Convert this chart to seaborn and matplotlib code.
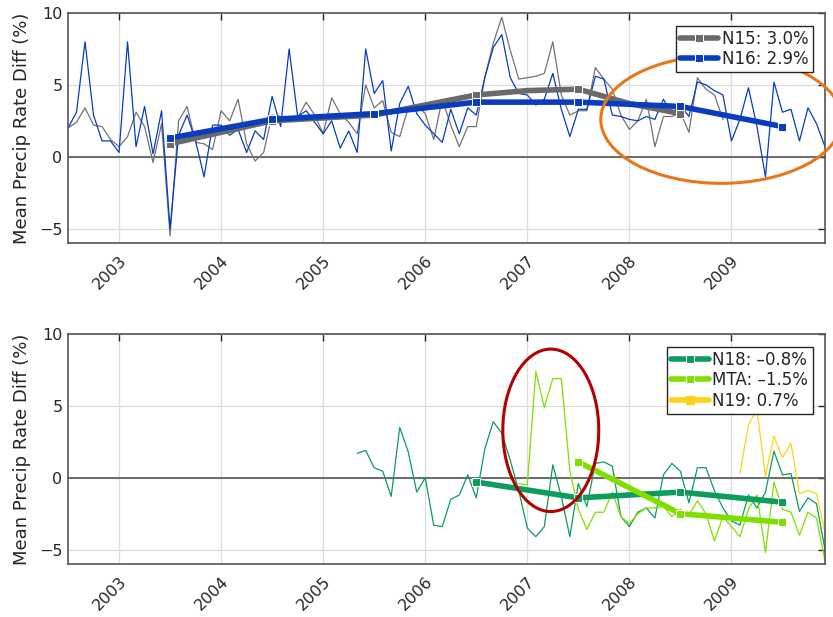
import numpy as np
import pandas as pd
import matplotlib
matplotlib.use("Agg")
import matplotlib.pyplot as plt
from matplotlib.patches import Ellipse
import seaborn as sns

# ---------------- data ----------------
start_year = 2002.5          # first month (Jul 2002), monthly steps
n15 = [2.0, 2.4, 3.4, 2.2, 2.1, 1.2, 0.7, 1.4, 3.1, 2.1, -0.4, 2.3, -5.5, 2.5, 3.5, 1.0,
       0.9, 0.5, 3.2, 2.5, 4.0, 0.9, -0.3, 0.3, 2.9, 2.8, 2.6, 2.7, 3.8, 2.9, 1.6, 4.1,
       3.0, 2.4, 1.6, 5.0, 3.4, 3.9, 1.7, 1.4, 3.4, 3.6, 3.0, 1.2, 4.0, 2.2, 0.7, 2.1,
       2.1, 5.5, 7.9, 9.7, 7.4, 5.4, 5.5, 5.6, 5.8, 8.0, 4.3, 2.9, 3.2, 3.2, 6.2, 5.4,
       4.7, 2.9, 1.9, 2.5, 4.0, 0.7, 2.8, 2.8, 3.1, 1.7, 5.5, 4.7, 4.3, 2.6]
n16 = [2.0, 3.1, 8.0, 2.9, 1.1, 1.1, 0.3, 8.0, 0.7, 3.5, 0.2, 3.2, -5.0, 1.5, 2.9, 1.1,
       -1.4, 2.2, 2.2, 1.5, 1.9, 0.3, 1.8, 1.2, 4.2, 2.1, 7.5, 2.8, 3.2, 2.4, 1.6, 2.5,
       0.6, 1.8, 0.3, 7.5, 4.4, 5.3, 0.4, 3.7, 4.9, 3.0, 2.2, 1.6, 1.0, 3.3, 1.6, 3.4,
       2.9, 5.5, 7.6, 8.5, 5.5, 4.4, 4.3, 3.6, 4.0, 5.8, 3.3, 1.4, 3.3, 3.3, 5.6, 5.4,
       2.9, 2.8, 2.6, 2.5, 2.8, 2.6, 4.0, 3.0, 3.6, 2.8, 5.2, 5.0, 4.6, 4.3, 1.1, 2.6,
       4.8, 2.1, -1.4, 5.2, 3.1, 3.3, 1.1, 3.4, 2.3, 0.7]
n18_start = 34
n18 = [1.7, 1.9, 0.7, 0.45, -1.3, 3.5, 1.8, -1.0, 0.0, -3.3, -3.4, -1.5, -1.2, 0.2,
       -1.4, 2.0, 3.9, 3.1, 1.2, -0.9, -3.5, -4.1, -3.4, 0.9, -1.3, -4.1, -0.4, -2.0,
       1.0, 1.1, 0.8, -2.7, -3.4, -2.4, -2.1, -2.8, 0.2, 1.0, 0.45, -1.75, 0.7, 0.7,
       -0.9, -2.1, -3.0, -3.3, -1.2, -2.1, -1.0, 1.85, 0.2, 0.3, -2.35, -1.4, -1.8, -5.0]
mta_start = 53
mta = [-0.4, -0.5, 7.4, 4.9, 6.9, 6.9, 0.5, -2.2, -3.6, -2.4, -2.4, -1.0, -2.7, -3.2,
       -2.5, -2.1, -2.1, -2.0, -2.7, -2.2, -2.6, -1.6, -2.5, -4.4, -2.7, -3.4, -4.1,
       -2.2, -1.2, -5.2, -0.3, -2.2, -2.4, -4.0, -2.4, -2.8, -5.8]
n19_start = 79
n19 = [0.3, 3.7, 4.7, 0.1, 2.9, 1.4, 2.4, -1.1, -0.9, -1.1, -3.8]

# yearly trend lines (month index, value)
n15_trend_k = [12, 24, 36, 42, 48, 54, 60, 66, 72]
n15_trend = [0.9, 2.5, 2.9, 3.6, 4.3, 4.6, 4.7, 3.7, 3.0]
n15_marks = [0, 1, 2, 4, 6, 8]
n16_trend_k = [12, 24, 36, 48, 60, 72, 84]
n16_trend = [1.3, 2.6, 3.0, 3.8, 3.8, 3.5, 2.1]
n18_trend_k = [48, 60, 72, 84]
n18_trend = [-0.3, -1.4, -1.0, -1.7]
mta_trend_k = [60, 72, 84]
mta_trend = [1.1, -2.5, -3.1]

labels_top = ["N15: 3.0%", "N16: 2.9%"]
labels_bot = ["N18: \u20130.8%", "MTA: \u20131.5%", "N19: 0.7%"]
year_ticks = [2003, 2004, 2005, 2006, 2007, 2008, 2009]
y_ticks = [-5, 0, 5, 10]

c_n15_thin = "#737373"
c_n15 = "#6a6a6a"
c_n16 = "#0a3cc0"
c_n18 = "#0c9c5c"
c_mta = "#7fe000"
c_n19 = "#ffd21a"


def months_to_year(k0, n):
    return start_year + (k0 + np.arange(n)) / 12.0


def kk(klist):
    return start_year + np.asarray(klist) / 12.0


# ---------------- figure ----------------
sns.set_theme(style="white")
plt.rcParams["font.family"] = ["DejaVu Sans"]
fig = plt.figure(figsize=(8.33, 6.17), dpi=100)
ax1 = fig.add_axes([68 / 833, 1 - 243 / 617, 757 / 833, 230 / 617])
ax2 = fig.add_axes([68 / 833, 1 - 564 / 617, 757 / 833, 230 / 617])

# top panel
sns.lineplot(x=months_to_year(0, len(n15)), y=n15, ax=ax1, color=c_n15_thin, lw=0.9,
             legend=False, sort=False)
sns.lineplot(x=months_to_year(0, len(n16)), y=n16, ax=ax1, color=c_n16, lw=0.9,
             legend=False, sort=False)
sns.lineplot(x=kk(n15_trend_k), y=n15_trend, ax=ax1, color=c_n15, lw=4, marker="s",
             markersize=5.5, markevery=n15_marks, label=labels_top[0], sort=False)
sns.lineplot(x=kk(n16_trend_k), y=n16_trend, ax=ax1, color=c_n16, lw=4, marker="s",
             markersize=5.5, label=labels_top[1], sort=False)

# bottom panel
sns.lineplot(x=months_to_year(n18_start, len(n18)), y=n18, ax=ax2, color=c_n18, lw=0.9,
             legend=False, sort=False)
sns.lineplot(x=months_to_year(mta_start, len(mta)), y=mta, ax=ax2, color=c_mta, lw=0.9,
             legend=False, sort=False)
sns.lineplot(x=months_to_year(n19_start, len(n19)), y=n19, ax=ax2, color=c_n19, lw=0.9,
             legend=False, sort=False)
sns.lineplot(x=kk(n18_trend_k), y=n18_trend, ax=ax2, color=c_n18, lw=4, marker="s",
             markersize=5.5, label=labels_bot[0], sort=False)
sns.lineplot(x=kk(mta_trend_k), y=mta_trend, ax=ax2, color=c_mta, lw=4, marker="s",
             markersize=5.5, label=labels_bot[1], sort=False)
ax2.plot([], [], color=c_n19, lw=4, marker="s", markersize=5.5, label=labels_bot[2])

for ax in (ax1, ax2):
    ax.set_xlim(start_year, start_year + 89 / 12.0)
    ax.set_ylim(-6, 10)
    ax.set_xticks(year_ticks)
    ax.set_xticklabels([str(y) for y in year_ticks], rotation=45, ha="right",
                       va="top", rotation_mode="anchor")
    ax.set_yticks(y_ticks)
    ax.set_yticklabels([("\u2212" + str(-v)) if v < 0 else str(v) for v in y_ticks])
    ax.grid(True, color="#dcdcdc", lw=0.9)
    ax.set_axisbelow(True)
    ax.axhline(0, color="#555555", lw=1.2, zorder=1.5)
    ax.tick_params(axis="both", direction="in", top=True, right=True, length=5,
                   width=1.0, color="#262626", labelsize=11.5, labelcolor="#262626")
    ax.tick_params(axis="x", pad=7)
    ax.tick_params(axis="y", pad=4)
    for s in ax.spines.values():
        s.set_color("#555555")
        s.set_linewidth(1.2)
    ax.set_ylabel("Mean Precip Rate Diff (%)", fontsize=13, color="#262626", labelpad=6)
    ax.set_xlabel("")
    leg = ax.legend(loc="upper right", frameon=True, fancybox=False, framealpha=1,
                    edgecolor="#262626", fontsize=12, handlelength=2.3,
                    handletextpad=0.2, labelspacing=0.15, borderpad=0.25,
                    borderaxespad=0.75)
    leg.get_frame().set_linewidth(1.0)
    for t in leg.get_texts():
        t.set_color("#262626")

# highlight ellipses
ax1.add_patch(Ellipse((2008.9, 2.6), 2.36, 8.9, fill=False, ec="#e8771c", lw=2.2,
                      clip_on=False, zorder=5))
ax2.add_patch(Ellipse((2007.23, 3.3), 0.94, 11.3, fill=False, ec="#b30000", lw=2.2,
                      clip_on=False, zorder=5))

fig.savefig("out.png", dpi=100)
